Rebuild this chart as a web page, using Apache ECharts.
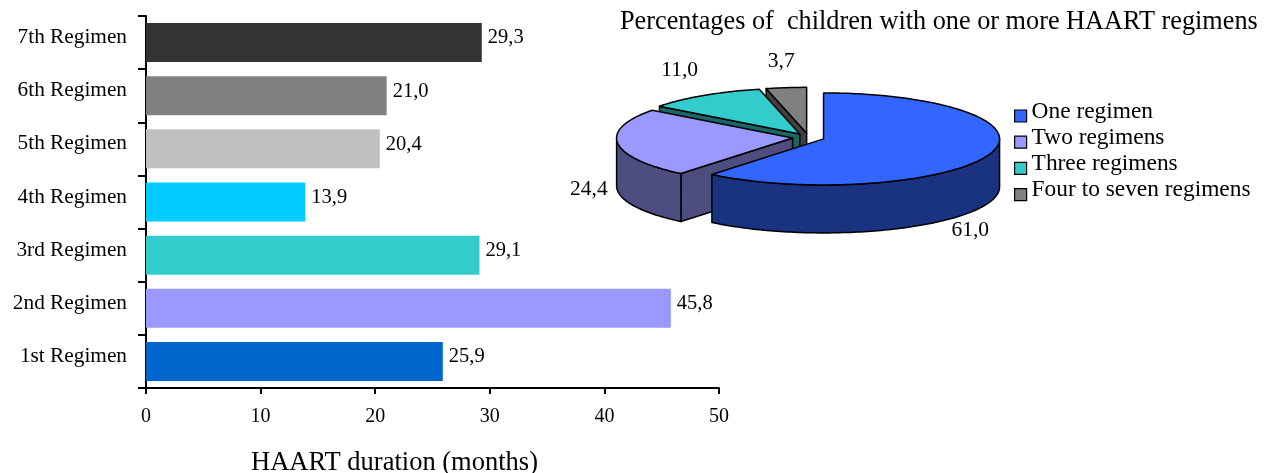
<!DOCTYPE html>
<html>
<head>
<meta charset="utf-8">
<style>html,body{margin:0;padding:0;background:#fff}#c{width:1270px;height:473px}</style>
<script src="https://cdn.jsdelivr.net/npm/echarts@6/dist/echarts.min.js"></script>
</head>
<body>
<div id="c"></div>
<script>
const FONT = '"Liberation Serif", serif';
const categories = ['1st Regimen','2nd Regimen','3rd Regimen','4th Regimen','5th Regimen','6th Regimen','7th Regimen'];
const durations = [25.9, 45.8, 29.1, 13.9, 20.4, 21.0, 29.3];
const barColors = ['#0066CC','#9999FF','#33CCCC','#00CCFF','#C0C0C0','#808080','#333333'];
const pieNames = ['One regimen','Two regimens','Three regimens','Four to seven regimens'];
const pieValues = [61.0, 24.4, 11.0, 3.7];
const pieColors = ['#3366FF','#9999FF','#33CCCC','#808080'];
const pieSideColors = ['#1A3380','#4D4D80','#1A6666','#404040'];
const pieLabelOffsets = [[-19,76],[-29,46],[-24,-25],[-5,-26]];
const PIE = {cx:808.5, cy:137.5, rx:176, ry:46, depth:48, explode:16};

const pieTotal = pieValues.reduce((a,b)=>a+b,0);
function sliceRender(idx){
  return function(params, api){
    const before = pieValues.slice(0,idx).reduce((a,b)=>a+b,0);
    const a0 = before/pieTotal*2*Math.PI;
    const a1 = (before+api.value(0))/pieTotal*2*Math.PI;
    const mid = (a0+a1)/2;
    const k = PIE.ry/PIE.rx;
    const ax = PIE.cx + PIE.explode*Math.sin(mid);
    const ay = PIE.cy - PIE.explode*k*Math.cos(mid);
    const pt = t => [ax+PIE.rx*Math.sin(t), ay-PIE.ry*Math.cos(t)];
    const down = p => [p[0], p[1]+PIE.depth];
    const stroke = {stroke:'#000', lineWidth:1.5, lineJoin:'round'};
    const arc = (s,e)=>{const n=Math.max(2,Math.ceil((e-s)/0.02));const r=[];for(let i=0;i<=n;i++)r.push(pt(s+(e-s)*i/n));return r;};
    const children = [];
    const side = pieSideColors[idx];
    const apex=[ax,ay];
    const face = t => {
      const p=pt(t);
      children.push({type:'polygon',shape:{points:[p,apex,down(apex),down(p)]},style:Object.assign({fill:side},stroke)});
    };
    // only the cut faces that look toward the viewer
    if(Math.sin(a0) < -1e-6) face(a0);
    if(Math.sin(a1) > 1e-6) face(a1);
    // outer wall: the part of the arc facing the viewer
    const s=Math.max(a0,Math.PI/2), e=Math.min(a1,Math.PI*1.5);
    if(e>s){
      const top=arc(s,e);
      children.push({type:'polygon',shape:{points:top.concat(top.slice().reverse().map(down))},style:Object.assign({fill:side},stroke)});
    }
    children.push({type:'polygon',shape:{points:[apex].concat(arc(a0,a1))},style:Object.assign({fill:pieColors[idx]},stroke)});
    const m=pt(mid), off=pieLabelOffsets[idx];
    children.push({type:'text',style:{x:m[0]+off[0],y:m[1]+off[1],text:api.value(0).toFixed(1).replace('.',','),
      font:'21.5px '+FONT,fill:'#000',textAlign:'center',textVerticalAlign:'middle'}});
    return {type:'group',children};
  };
}
const pieSeries = [3,2,1,0].map(i=>({
  type:'custom',name:pieNames[i],coordinateSystem:'none',
  renderItem:sliceRender(i),data:[[pieValues[i]]],
  itemStyle:{color:pieColors[i]},silent:true,animation:false,z:5
}));

const chart = echarts.init(document.getElementById('c'),null,{renderer:'canvas'});
chart.setOption({
  animation:false,
  backgroundColor:'#fff',
  title:{text:'Percentages of  children with one or more HAART regimens',left:620,top:4,padding:[5,0,5,0],
    textStyle:{fontFamily:FONT,fontSize:26.25,fontWeight:'normal',color:'#000'}},
  legend:{orient:'vertical',left:1014,top:100,padding:0,itemWidth:12,itemHeight:12,itemGap:-5.8,
    data:pieNames.map((n,i)=>({name:n,icon:'rect',itemStyle:{color:pieColors[i],borderColor:'#000',borderWidth:1.2}})),
    formatter:'{t|{name}}',
    textStyle:{rich:{t:{fontFamily:FONT,fontSize:23.4,color:'#000',lineHeight:17.2,padding:[0,0,9,0]}}},selectedMode:false},
  grid:{left:146,right:551,top:16,bottom:85,outerBoundsMode:'none'},
  xAxis:{type:'value',min:0,max:50,interval:10,splitLine:{show:false},
    axisLine:{show:true,lineStyle:{color:'#000',width:2}},
    axisTick:{show:true,length:6,lineStyle:{color:'#000',width:2}},
    axisLabel:{fontFamily:FONT,fontSize:20,color:'#000',margin:19},
    name:'HAART duration (months)',nameLocation:'middle',nameGap:62,
    nameTextStyle:{fontFamily:FONT,fontSize:26.5,color:'#000',padding:[0,0,0,-76]}},
  yAxis:{type:'category',data:categories,
    axisLine:{show:true,lineStyle:{color:'#000',width:2}},
    axisTick:{show:true,length:8,lineStyle:{color:'#000',width:2}},
    axisLabel:{fontFamily:FONT,fontSize:21.3,color:'#000',margin:19,verticalAlign:'bottom',lineHeight:10}},
  series:[{type:'bar',barWidth:39,silent:true,
    data:durations.map((v,i)=>({value:v,itemStyle:{color:barColors[i]}})),
    label:{show:true,position:'right',distance:6,offset:[0,-4.5],fontFamily:FONT,fontSize:20.5,color:'#000',
      formatter:p=>p.value.toFixed(1).replace('.',',')}}].concat(pieSeries)
});
</script>
</body>
</html>
